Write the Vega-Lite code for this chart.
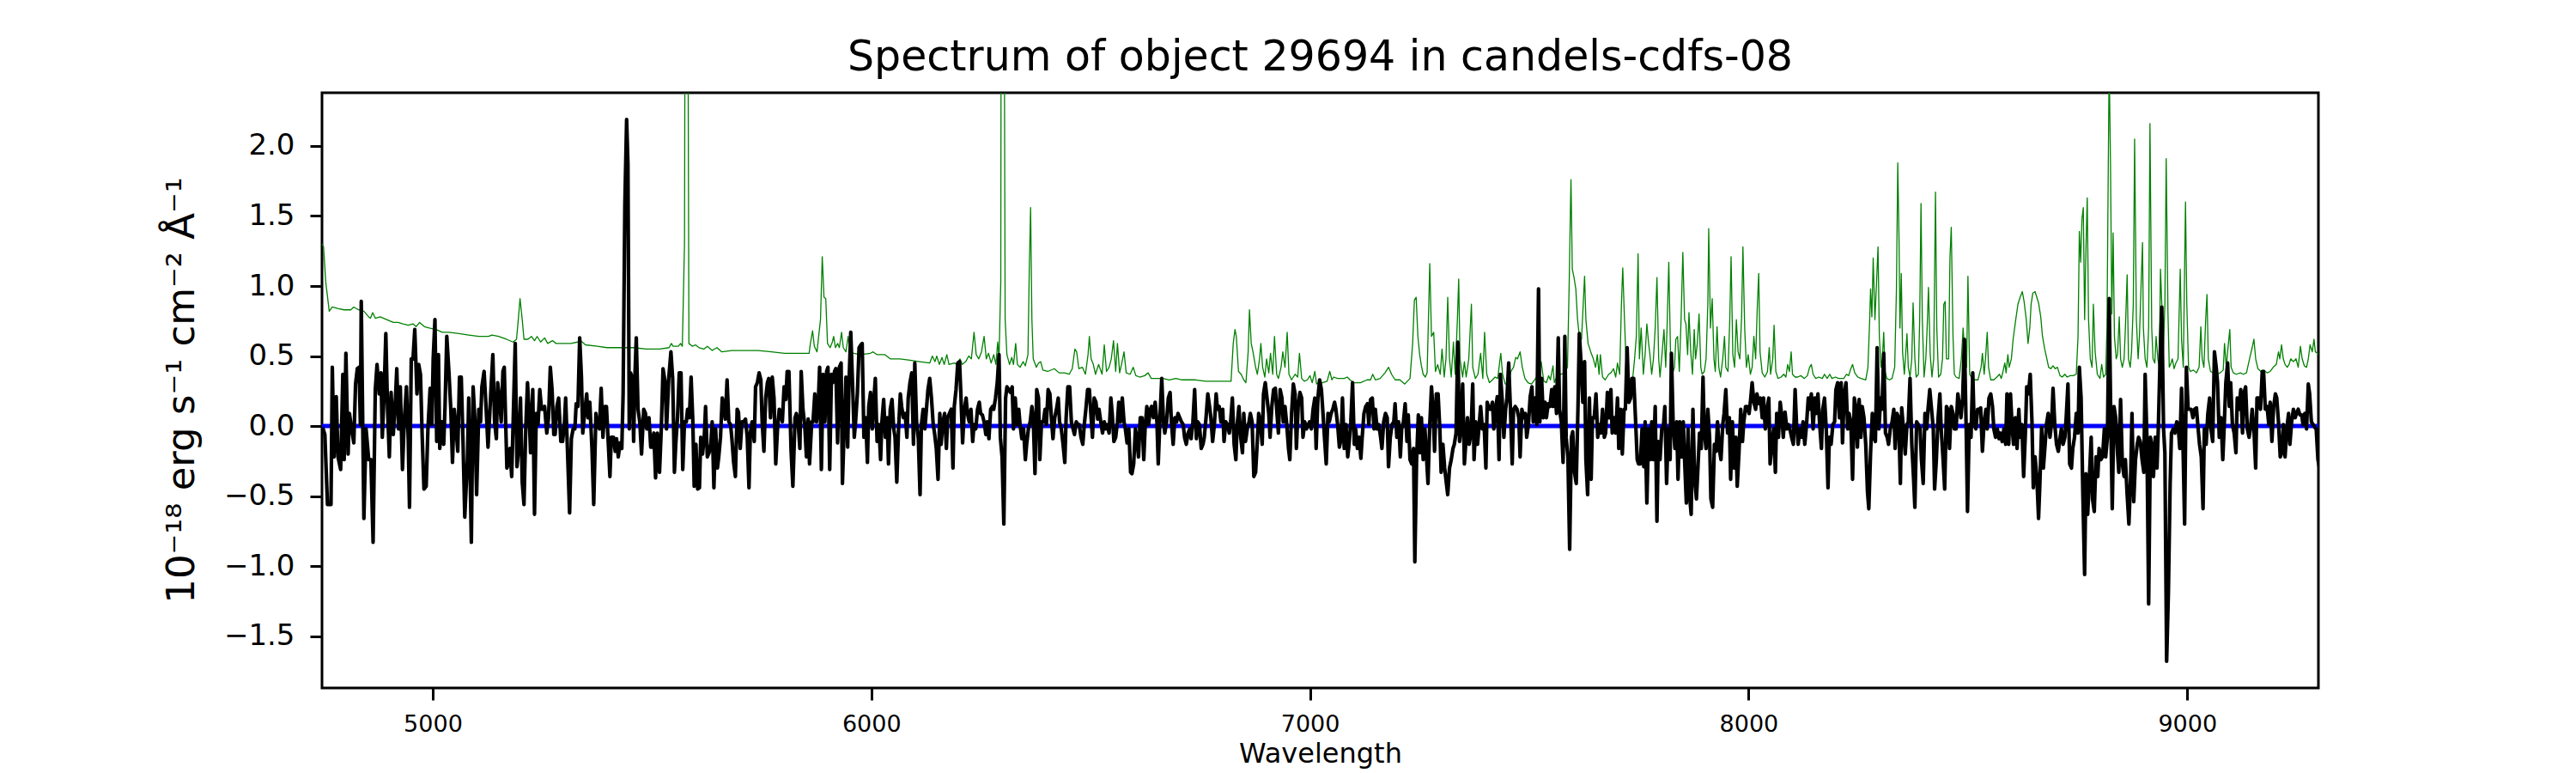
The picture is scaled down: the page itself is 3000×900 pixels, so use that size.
{
"$schema": "https://vega.github.io/schema/vega-lite/v6.json",
"width": 2325,
"height": 693,
"autosize": {"type": "none"},
"padding": {"left": 375, "top": 108, "right": 300, "bottom": 99},
"background": "white",
"config": {"view": {"stroke": "black", "strokeWidth": 3}, "font": "DejaVu Sans"},
"title": {"text": "Spectrum of object 29694 in candels-cdfs-08", "font": "DejaVu Sans", "fontSize": 49, "fontWeight": "normal", "color": "black", "anchor": "middle", "baseline": "alphabetic", "offset": 25, "dy": 48},
"datasets": {
"zero": [{"w": 4747.5, "f": 0}, {"w": 9299, "f": 0}],
"noise": [
{"w":4748,"f":1.3},{"w":4751,"f":1.28},{"w":4756,"f":1.03},{"w":4764,"f":0.82},{"w":4771,"f":0.85},{"w":4783,"f":0.84},{"w":4798,"f":0.83},{"w":4813,"f":0.83},{"w":4820,"f":0.85},{"w":4831,"f":0.83},{"w":4843,"f":0.82},{"w":4854,"f":0.78},{"w":4858,"f":0.77},{"w":4863,"f":0.81},{"w":4869,"f":0.77},{"w":4880,"f":0.78},{"w":4895,"f":0.76},{"w":4910,"f":0.74},{"w":4921,"f":0.74},{"w":4932,"f":0.73},{"w":4944,"f":0.72},{"w":4955,"f":0.73},{"w":4962,"f":0.71},{"w":4970,"f":0.74},{"w":4981,"f":0.71},{"w":4992,"f":0.70},{"w":5007,"f":0.69},{"w":5022,"f":0.67},{"w":5037,"f":0.67},{"w":5060,"f":0.66},{"w":5082,"f":0.65},{"w":5105,"f":0.64},{"w":5127,"f":0.64},{"w":5135,"f":0.65},{"w":5150,"f":0.64},{"w":5168,"f":0.62},{"w":5183,"f":0.60},{"w":5191,"f":0.62},{"w":5195,"f":0.76},{"w":5199,"f":0.91},{"w":5204,"f":0.76},{"w":5208,"f":0.62},{"w":5217,"f":0.62},{"w":5225,"f":0.64},{"w":5232,"f":0.61},{"w":5238,"f":0.64},{"w":5246,"f":0.60},{"w":5255,"f":0.63},{"w":5262,"f":0.59},{"w":5273,"f":0.61},{"w":5281,"f":0.59},{"w":5296,"f":0.59},{"w":5315,"f":0.59},{"w":5330,"f":0.60},{"w":5337,"f":0.61},{"w":5348,"f":0.58},{"w":5375,"f":0.57},{"w":5397,"f":0.56},{"w":5427,"f":0.56},{"w":5457,"f":0.56},{"w":5487,"f":0.55},{"w":5517,"f":0.55},{"w":5539,"f":0.56},{"w":5544,"f":0.59},{"w":5548,"f":0.57},{"w":5560,"f":0.57},{"w":5565,"f":0.59},{"w":5569,"f":0.57},{"w":5574,"f":1.31},{"w":5577,"f":6.0},{"w":5581,"f":4.0},{"w":5584,"f":0.59},{"w":5592,"f":0.57},{"w":5599,"f":0.58},{"w":5607,"f":0.56},{"w":5618,"f":0.55},{"w":5626,"f":0.57},{"w":5637,"f":0.54},{"w":5648,"f":0.56},{"w":5659,"f":0.53},{"w":5682,"f":0.54},{"w":5712,"f":0.54},{"w":5742,"f":0.54},{"w":5772,"f":0.53},{"w":5802,"f":0.52},{"w":5832,"f":0.52},{"w":5858,"f":0.52},{"w":5861,"f":0.59},{"w":5866,"f":0.68},{"w":5870,"f":0.57},{"w":5876,"f":0.53},{"w":5884,"f":0.76},{"w":5888,"f":1.21},{"w":5892,"f":0.92},{"w":5896,"f":0.91},{"w":5900,"f":0.59},{"w":5906,"f":0.56},{"w":5911,"f":0.60},
{"w":5914,"f":0.64},{"w":5918,"f":0.56},{"w":5923,"f":0.59},{"w":5927,"f":0.56},{"w":5932,"f":0.67},{"w":5936,"f":0.56},{"w":5942,"f":0.53},{"w":5947,"f":0.64},{"w":5951,"f":0.53},{"w":5960,"f":0.52},{"w":5975,"f":0.51},{"w":5998,"f":0.52},{"w":6004,"f":0.53},{"w":6013,"f":0.51},{"w":6031,"f":0.51},{"w":6043,"f":0.48},{"w":6065,"f":0.48},{"w":6088,"f":0.47},{"w":6110,"f":0.46},{"w":6133,"f":0.45},{"w":6139,"f":0.50},{"w":6145,"f":0.46},{"w":6149,"f":0.50},{"w":6155,"f":0.44},{"w":6161,"f":0.49},{"w":6166,"f":0.44},{"w":6172,"f":0.51},{"w":6177,"f":0.44},{"w":6189,"f":0.45},{"w":6196,"f":0.44},{"w":6202,"f":0.48},{"w":6207,"f":0.44},{"w":6215,"f":0.46},{"w":6222,"f":0.50},{"w":6228,"f":0.48},{"w":6234,"f":0.67},{"w":6239,"f":0.51},{"w":6245,"f":0.48},{"w":6251,"f":0.53},{"w":6257,"f":0.64},{"w":6262,"f":0.48},{"w":6267,"f":0.52},{"w":6273,"f":0.45},{"w":6279,"f":0.51},{"w":6284,"f":0.44},{"w":6288,"f":0.60},{"w":6291,"f":0.48},{"w":6295,"f":1.03},{"w":6297,"f":6.0},{"w":6302,"f":4.0},{"w":6305,"f":0.76},{"w":6309,"f":0.51},{"w":6315,"f":0.44},{"w":6320,"f":0.49},{"w":6324,"f":0.44},{"w":6329,"f":0.59},{"w":6333,"f":0.44},{"w":6339,"f":0.42},{"w":6346,"f":0.46},{"w":6351,"f":0.43},{"w":6357,"f":0.51},{"w":6360,"f":1.12},{"w":6363,"f":1.56},{"w":6366,"f":0.76},{"w":6369,"f":0.48},{"w":6376,"f":0.42},{"w":6381,"f":0.45},{"w":6386,"f":0.46},{"w":6391,"f":0.40},{"w":6402,"f":0.39},{"w":6417,"f":0.41},{"w":6428,"f":0.38},{"w":6440,"f":0.38},{"w":6451,"f":0.37},{"w":6458,"f":0.41},{"w":6464,"f":0.55},{"w":6468,"f":0.53},{"w":6473,"f":0.41},{"w":6481,"f":0.42},{"w":6488,"f":0.37},{"w":6494,"f":0.51},{"w":6497,"f":0.64},{"w":6501,"f":0.48},{"w":6506,"f":0.44},{"w":6511,"f":0.37},{"w":6518,"f":0.44},{"w":6526,"f":0.37},{"w":6531,"f":0.58},{"w":6536,"f":0.39},{"w":6542,"f":0.42},{"w":6547,"f":0.48},{"w":6552,"f":0.61},{"w":6557,"f":0.39},{"w":6561,"f":0.59},{"w":6566,"f":0.38},{"w":6571,"f":0.45},{"w":6576,"f":0.53},{"w":6581,"f":0.38},{"w":6590,"f":0.37},{"w":6597,"f":0.42},{"w":6603,"f":0.36},{"w":6612,"f":0.35},{"w":6623,"f":0.36},{"w":6631,"f":0.38},{"w":6638,"f":0.34},{"w":6650,"f":0.34},{"w":6665,"f":0.34},{"w":6679,"f":0.33},{"w":6694,"f":0.34},{"w":6709,"f":0.33},{"w":6724,"f":0.33},{"w":6739,"f":0.33},{"w":6762,"f":0.32},{"w":6784,"f":0.32},{"w":6807,"f":0.32},{"w":6820,"f":0.32},{"w":6825,"f":0.59},{"w":6829,"f":0.69},{"w":6832,"f":0.64},{"w":6837,"f":0.39},{"w":6843,"f":0.37},{"w":6849,"f":0.33},{"w":6854,"f":0.31},{"w":6859,"f":0.53},{"w":6862,"f":0.83},{"w":6866,"f":0.59},{"w":6870,"f":0.53},{"w":6876,"f":0.42},{"w":6880,"f":0.37},{"w":6885,"f":0.48},{"w":6888,"f":0.59},{"w":6892,"f":0.42},{"w":6897,"f":0.35},{"w":6901,"f":0.48},{"w":6906,"f":0.38},{"w":6910,"f":0.52},{"w":6915,"f":0.37},{"w":6919,"f":0.64},{"w":6924,"f":0.37},{"w":6928,"f":0.34},{"w":6934,"f":0.42},{"w":6938,"f":0.53},{"w":6943,"f":0.42},{"w":6948,"f":0.67},{"w":6952,"f":0.37},{"w":6958,"f":0.33},{"w":6966,"f":0.37},{"w":6972,"f":0.35},{"w":6976,"f":0.52},{"w":6981,"f":0.34},{"w":6987,"f":0.32},{"w":6994,"f":0.33},{"w":7000,"f":0.36},{"w":7005,"f":0.31},{"w":7011,"f":0.39},{"w":7015,"f":0.30},{"w":7020,"f":0.31},{"w":7028,"f":0.31},{"w":7039,"f":0.32},{"w":7045,"f":0.39},{"w":7050,"f":0.33},
{"w":7054,"f":0.35},{"w":7063,"f":0.34},{"w":7078,"f":0.34},{"w":7085,"f":0.35},{"w":7091,"f":0.33},{"w":7100,"f":0.31},{"w":7115,"f":0.31},{"w":7130,"f":0.33},{"w":7138,"f":0.33},{"w":7143,"f":0.37},{"w":7149,"f":0.33},{"w":7160,"f":0.34},{"w":7171,"f":0.38},{"w":7179,"f":0.42},{"w":7186,"f":0.37},{"w":7194,"f":0.33},{"w":7205,"f":0.33},{"w":7216,"f":0.30},{"w":7228,"f":0.34},{"w":7234,"f":0.59},{"w":7238,"f":0.90},{"w":7242,"f":0.92},{"w":7246,"f":0.64},{"w":7250,"f":0.51},{"w":7254,"f":0.43},{"w":7258,"f":0.37},{"w":7263,"f":0.35},{"w":7267,"f":0.38},{"w":7270,"f":0.76},{"w":7273,"f":1.16},{"w":7277,"f":0.64},{"w":7282,"f":0.67},{"w":7286,"f":0.39},{"w":7291,"f":0.44},{"w":7297,"f":0.37},{"w":7301,"f":0.55},{"w":7306,"f":0.35},{"w":7310,"f":0.48},{"w":7314,"f":0.92},{"w":7318,"f":0.48},{"w":7322,"f":0.35},{"w":7327,"f":0.60},{"w":7331,"f":0.37},{"w":7336,"f":0.76},{"w":7339,"f":1.05},{"w":7342,"f":0.48},{"w":7348,"f":0.35},{"w":7352,"f":0.46},{"w":7356,"f":0.35},{"w":7362,"f":0.48},{"w":7368,"f":0.87},{"w":7371,"f":0.42},{"w":7377,"f":0.34},{"w":7383,"f":0.37},{"w":7389,"f":0.52},{"w":7394,"f":0.34},{"w":7398,"f":0.67},{"w":7403,"f":0.37},{"w":7409,"f":0.31},{"w":7416,"f":0.33},{"w":7422,"f":0.35},{"w":7428,"f":0.34},{"w":7431,"f":0.42},{"w":7435,"f":0.52},{"w":7439,"f":0.37},{"w":7445,"f":0.30},{"w":7452,"f":0.30},{"w":7458,"f":0.39},{"w":7464,"f":0.42},{"w":7469,"f":0.49},{"w":7473,"f":0.48},{"w":7479,"f":0.53},{"w":7484,"f":0.42},{"w":7490,"f":0.34},{"w":7497,"f":0.31},{"w":7505,"f":0.30},{"w":7512,"f":0.33},{"w":7521,"f":0.37},{"w":7527,"f":0.46},{"w":7533,"f":0.32},{"w":7539,"f":0.31},{"w":7544,"f":0.36},{"w":7548,"f":0.33},{"w":7554,"f":0.43},{"w":7557,"f":0.31},{"w":7565,"f":0.37},{"w":7572,"f":0.37},{"w":7581,"f":0.38},{"w":7587,"f":0.42},{"w":7591,"f":1.03},{"w":7593,"f":1.42},{"w":7595,"f":1.76},{"w":7598,"f":1.12},{"w":7602,"f":1.06},{"w":7606,"f":0.98},{"w":7610,"f":0.76},{"w":7614,"f":0.64},{"w":7619,"f":0.62},{"w":7622,"f":0.81},{"w":7626,"f":1.07},{"w":7629,"f":0.76},{"w":7634,"f":0.59},{"w":7640,"f":0.53},{"w":7646,"f":0.48},{"w":7651,"f":0.42},{"w":7655,"f":0.51},{"w":7659,"f":0.37},{"w":7662,"f":0.51},{"w":7667,"f":0.35},{"w":7673,"f":0.33},{"w":7681,"f":0.37},{"w":7686,"f":0.38},{"w":7692,"f":0.41},{"w":7697,"f":0.35},{"w":7701,"f":0.45},{"w":7706,"f":0.37},{"w":7710,"f":0.87},{"w":7713,"f":1.13},{"w":7717,"f":0.76},{"w":7721,"f":0.42},{"w":7726,"f":0.37},{"w":7731,"f":0.31},{"w":7736,"f":0.35},{"w":7740,"f":0.48},{"w":7744,"f":0.64},{"w":7748,"f":1.23},{"w":7751,"f":0.48},{"w":7755,"f":0.70},{"w":7760,"f":0.37},{"w":7764,"f":0.51},{"w":7768,"f":0.73},{"w":7772,"f":0.59},{"w":7775,"f":0.51},{"w":7779,"f":0.37},{"w":7783,"f":0.48},{"w":7787,"f":0.70},{"w":7791,"f":1.06},{"w":7795,"f":0.48},{"w":7798,"f":0.35},{"w":7803,"f":0.53},{"w":7807,"f":0.69},{"w":7811,"f":0.42},{"w":7814,"f":0.70},{"w":7818,"f":1.17},{"w":7822,"f":0.51},{"w":7826,"f":0.37},{"w":7831,"f":0.42},{"w":7834,"f":0.62},{"w":7838,"f":0.64},{"w":7842,"f":0.39},{"w":7846,"f":0.76},{"w":7850,"f":1.24},{"w":7854,"f":0.76},{"w":7857,"f":0.73},{"w":7861,"f":0.51},{"w":7864,"f":0.81},{"w":7868,"f":0.53},{"w":7872,"f":0.37},{"w":7876,"f":0.69},{"w":7879,"f":0.48},{"w":7883,"f":0.59},{"w":7887,"f":0.80},{"w":7891,"f":0.42},{"w":7894,"f":0.37},{"w":7899,"f":0.39},{"w":7903,"f":0.48},{"w":7907,"f":0.87},{"w":7909,"f":1.41},{"w":7913,"f":0.70},{"w":7917,"f":0.91},{"w":7921,"f":0.48},{"w":7924,"f":0.39},{"w":7928,"f":0.71},{"w":7932,"f":0.42},{"w":7936,"f":0.35},{"w":7941,"f":0.48},{"w":7945,"f":0.64},{"w":7948,"f":0.42},{"w":7953,"f":0.39},{"w":7957,"f":0.76},{"w":7960,"f":1.21},{"w":7964,"f":0.51},{"w":7968,"f":0.42},{"w":7972,"f":0.76},{"w":7976,"f":0.53},{"w":7980,"f":0.48},{"w":7984,"f":0.78},{"w":7987,"f":1.28},{"w":7991,"f":0.70},{"w":7995,"f":0.42},{"w":7999,"f":0.51},{"w":8004,"f":0.37},{"w":8008,"f":0.42},{"w":8012,"f":0.64},{"w":8016,"f":0.48},{"w":8020,"f":0.87},{"w":8023,"f":1.09},{"w":8026,"f":0.53},{"w":8031,"f":0.38},{"w":8037,"f":0.35},{"w":8043,"f":0.39},{"w":8047,"f":0.56},{"w":8050,"f":0.37},{"w":8055,"f":0.48},{"w":8058,"f":0.72},{"w":8062,"f":0.39},{"w":8067,"f":0.34},{"w":8074,"f":0.35},{"w":8080,"f":0.37},{"w":8085,"f":0.35},{"w":8089,"f":0.44},{"w":8093,"f":0.39},{"w":8097,"f":0.53},{"w":8100,"f":0.37},{"w":8106,"f":0.35},{"w":8112,"f":0.35},{"w":8119,"f":0.36},{"w":8127,"f":0.34},{"w":8134,"f":0.36},{"w":8139,"f":0.42},{"w":8143,"f":0.44},{"w":8147,"f":0.37},{"w":8153,"f":0.34},{"w":8160,"f":0.35},{"w":8168,"f":0.34},{"w":8173,"f":0.37},{"w":8179,"f":0.34},{"w":8185,"f":0.37},{"w":8190,"f":0.34},{"w":8198,"f":0.35},{"w":8205,"f":0.34},
{"w":8210,"f":0.34},{"w":8217,"f":0.34},{"w":8223,"f":0.37},{"w":8228,"f":0.36},{"w":8233,"f":0.41},{"w":8237,"f":0.44},{"w":8242,"f":0.38},{"w":8249,"f":0.35},{"w":8256,"f":0.34},{"w":8267,"f":0.33},{"w":8272,"f":0.42},{"w":8276,"f":0.76},{"w":8278,"f":0.98},{"w":8281,"f":0.78},{"w":8284,"f":1.20},{"w":8288,"f":0.76},{"w":8291,"f":0.98},{"w":8295,"f":1.28},{"w":8298,"f":0.64},{"w":8302,"f":0.42},{"w":8305,"f":0.48},{"w":8308,"f":0.67},{"w":8311,"f":0.39},{"w":8315,"f":0.34},{"w":8321,"f":0.33},{"w":8327,"f":0.34},{"w":8333,"f":0.42},{"w":8337,"f":0.98},{"w":8340,"f":1.88},{"w":8343,"f":1.31},{"w":8345,"f":0.70},{"w":8348,"f":1.09},{"w":8351,"f":0.53},{"w":8355,"f":0.37},{"w":8358,"f":0.51},{"w":8361,"f":0.66},{"w":8364,"f":0.42},{"w":8368,"f":0.35},{"w":8372,"f":0.48},{"w":8375,"f":0.88},{"w":8379,"f":0.48},{"w":8382,"f":0.35},{"w":8387,"f":0.37},{"w":8390,"f":0.76},{"w":8393,"f":1.59},{"w":8396,"f":0.76},{"w":8400,"f":0.35},{"w":8404,"f":0.48},{"w":8407,"f":0.70},{"w":8410,"f":0.99},{"w":8414,"f":0.51},{"w":8418,"f":0.35},{"w":8422,"f":0.48},{"w":8426,"f":1.67},{"w":8429,"f":0.70},{"w":8433,"f":0.35},{"w":8438,"f":0.37},{"w":8442,"f":0.48},{"w":8445,"f":0.87},{"w":8448,"f":0.89},{"w":8451,"f":0.48},{"w":8456,"f":0.48},{"w":8459,"f":1.20},{"w":8462,"f":1.42},{"w":8466,"f":0.64},{"w":8469,"f":0.37},{"w":8473,"f":0.35},{"w":8480,"f":0.34},{"w":8485,"f":0.48},{"w":8489,"f":0.70},{"w":8493,"f":0.51},{"w":8497,"f":0.42},{"w":8500,"f":1.07},{"w":8504,"f":0.37},{"w":8509,"f":0.34},{"w":8516,"f":0.33},{"w":8523,"f":0.33},{"w":8530,"f":0.42},{"w":8533,"f":0.52},{"w":8537,"f":0.37},{"w":8540,"f":0.48},{"w":8544,"f":0.67},{"w":8547,"f":0.42},{"w":8552,"f":0.33},{"w":8559,"f":0.33},{"w":8566,"f":0.35},{"w":8572,"f":0.37},{"w":8576,"f":0.34},{"w":8580,"f":0.39},{"w":8584,"f":0.45},{"w":8587,"f":0.38},{"w":8591,"f":0.51},{"w":8594,"f":0.42},{"w":8599,"f":0.48},{"w":8603,"f":0.62},{"w":8609,"f":0.76},{"w":8614,"f":0.87},{"w":8619,"f":0.92},{"w":8624,"f":0.96},{"w":8628,"f":0.89},{"w":8633,"f":0.76},{"w":8637,"f":0.59},{"w":8641,"f":0.70},{"w":8644,"f":0.87},{"w":8648,"f":0.95},{"w":8653,"f":0.96},{"w":8657,"f":0.92},{"w":8661,"f":0.88},{"w":8666,"f":0.78},{"w":8670,"f":0.64},{"w":8675,"f":0.55},{"w":8680,"f":0.48},{"w":8684,"f":0.42},{"w":8689,"f":0.41},{"w":8694,"f":0.43},{"w":8699,"f":0.41},{"w":8704,"f":0.42},{"w":8710,"f":0.36},{"w":8715,"f":0.35},{"w":8721,"f":0.37},{"w":8726,"f":0.35},{"w":8733,"f":0.36},{"w":8740,"f":0.36},{"w":8747,"f":0.37},{"w":8751,"f":0.64},{"w":8754,"f":1.39},{"w":8757,"f":1.17},{"w":8760,"f":1.48},{"w":8763,"f":1.56},{"w":8766,"f":0.76},{"w":8769,"f":1.26},{"w":8772,"f":1.63},{"w":8775,"f":0.76},{"w":8779,"f":0.48},{"w":8783,"f":0.42},{"w":8786,"f":0.87},{"w":8790,"f":0.53},{"w":8795,"f":0.37},{"w":8801,"f":0.34},{"w":8805,"f":0.44},{"w":8809,"f":0.35},{"w":8814,"f":0.37},{"w":8817,"f":0.70},{"w":8820,"f":1.87},{"w":8822,"f":2.6},{"w":8825,"f":1.87},{"w":8828,"f":0.80},{"w":8831,"f":1.38},{"w":8834,"f":0.64},{"w":8838,"f":0.48},{"w":8841,"f":0.51},{"w":8845,"f":0.78},{"w":8848,"f":0.48},{"w":8852,"f":0.42},{"w":8856,"f":0.48},{"w":8859,"f":0.70},{"w":8863,"f":1.08},{"w":8866,"f":0.48},{"w":8870,"f":0.42},{"w":8873,"f":0.53},{"w":8877,"f":0.87},{"w":8880,"f":2.05},{"w":8884,"f":0.76},{"w":8888,"f":0.48},{"w":8891,"f":0.64},{"w":8895,"f":1.03},{"w":8898,"f":1.31},{"w":8900,"f":0.70},{"w":8904,"f":0.48},{"w":8908,"f":0.42},{"w":8912,"f":0.70},{"w":8915,"f":2.16},{"w":8919,"f":0.70},{"w":8922,"f":0.48},{"w":8926,"f":0.45},{"w":8929,"f":0.64},{"w":8933,"f":0.48},{"w":8936,"f":0.42},{"w":8939,"f":1.12},{"w":8942,"f":0.87},{"w":8945,"f":0.48},{"w":8949,"f":0.87},{"w":8952,"f":1.91},{"w":8956,"f":0.81},{"w":8959,"f":0.42},{"w":8963,"f":0.45},{"w":8966,"f":0.48},{"w":8970,"f":0.41},{"w":8974,"f":0.45},{"w":8979,"f":0.48},{"w":8984,"f":1.12},{"w":8987,"f":0.62},{"w":8991,"f":0.42},{"w":8996,"f":1.60},{"w":8999,"f":0.87},{"w":9003,"f":0.42},{"w":9007,"f":0.39},{"w":9014,"f":0.40},{"w":9021,"f":0.38},{"w":9027,"f":0.42},{"w":9031,"f":0.71},{"w":9034,"f":0.48},{"w":9038,"f":0.42},{"w":9042,"f":0.76},{"w":9045,"f":0.94},{"w":9048,"f":0.48},{"w":9053,"f":0.39},{"w":9060,"f":0.38},{"w":9068,"f":0.37},{"w":9075,"f":0.38},{"w":9082,"f":0.40},{"w":9085,"f":0.59},{"w":9089,"f":0.42},{"w":9092,"f":0.53},{"w":9097,"f":0.69},{"w":9100,"f":0.42},{"w":9105,"f":0.38},{"w":9112,"f":0.37},{"w":9121,"f":0.38},{"w":9128,"f":0.37},{"w":9135,"f":0.38},{"w":9142,"f":0.48},{"w":9148,"f":0.56},{"w":9152,"f":0.62},{"w":9156,"f":0.48},{"w":9161,"f":0.41},{"w":9168,"f":0.39},{"w":9175,"f":0.40},{"w":9182,"f":0.38},{"w":9189,"f":0.39},{"w":9196,"f":0.42},{"w":9203,"f":0.44},{"w":9208,"f":0.53},{"w":9211,"f":0.48},{"w":9215,"f":0.58},{"w":9219,"f":0.48},{"w":9223,"f":0.44},{"w":9228,"f":0.42},{"w":9232,"f":0.44},{"w":9236,"f":0.48},{"w":9242,"f":0.46},{"w":9248,"f":0.48},{"w":9253,"f":0.42},{"w":9258,"f":0.57},{"w":9262,"f":0.48},{"w":9267,"f":0.43},{"w":9272,"f":0.42},{"w":9276,"f":0.48},{"w":9280,"f":0.58},{"w":9285,"f":0.53},{"w":9289,"f":0.62},{"w":9292,"f":0.53},{"w":9297,"f":0.52},{"w":9299,"f":0.51}
],
"flux": [
{"w":4749,"f":-0.01},{"w":4754,"f":-0.06},{"w":4760,"f":-0.56},{"w":4768,"f":-0.56},{"w":4771,"f":0.42},{"w":4775,"f":-0.22},{"w":4780,"f":0.21},{"w":4784,"f":-0.22},{"w":4790,"f":-0.31},{"w":4795,"f":0.37},{"w":4798,"f":-0.24},{"w":4802,"f":0.52},{"w":4807,"f":-0.2},{"w":4810,"f":0.09},{"w":4815,"f":-0.02},{"w":4820,"f":-0.12},{"w":4824,"f":0.3},{"w":4828,"f":0.41},{"w":4832,"f":0.42},{"w":4835,"f":0.01},{"w":4837,"f":0.89},{"w":4843,"f":-0.66},{"w":4848,"f":-0.02},{"w":4854,"f":-0.24},{"w":4859,"f":-0.24},{"w":4864,"f":-0.83},{"w":4869,"f":0.26},{"w":4873,"f":0.44},{"w":4878,"f":0.23},{"w":4882,"f":0.38},{"w":4885,"f":-0.08},{"w":4889,"f":0.23},{"w":4893,"f":0.66},{"w":4897,"f":0.12},{"w":4901,"f":-0.22},{"w":4905,"f":0.24},{"w":4910,"f":-0.06},{"w":4915,"f":0.2},{"w":4918,"f":0.41},{"w":4922,"f":-0.02},{"w":4926,"f":0.28},{"w":4931,"f":-0.31},{"w":4935,"f":0.03},{"w":4940,"f":0.28},{"w":4944,"f":-0.08},{"w":4947,"f":-0.58},{"w":4951,"f":0.48},{"w":4955,"f":0.48},{"w":4959,"f":0.69},{"w":4964,"f":0.23},{"w":4968,"f":0.44},{"w":4972,"f":0.37},{"w":4976,"f":-0.08},{"w":4980,"f":-0.45},{"w":4985,"f":-0.43},{"w":4989,"f":-0.02},{"w":4994,"f":0.27},{"w":4998,"f":0.01},{"w":5001,"f":0.48},{"w":5005,"f":0.76},{"w":5009,"f":-0.11},{"w":5013,"f":0.51},{"w":5016,"f":-0.16},{"w":5021,"f":0.03},{"w":5025,"f":-0.13},{"w":5028,"f":0.14},{"w":5032,"f":0.64},{"w":5037,"f":0.38},{"w":5041,"f":0.13},{"w":5045,"f":-0.26},{"w":5049,"f":0.12},{"w":5052,"f":0.03},{"w":5057,"f":-0.18},{"w":5061,"f":0.35},{"w":5065,"f":0.35},{"w":5069,"f":-0.11},{"w":5073,"f":-0.65},{"w":5079,"f":-0.24},{"w":5082,"f":0.2},{"w":5088,"f":-0.83},{"w":5092,"f":0.28},{"w":5096,"f":0.05},{"w":5100,"f":-0.49},{"w":5105,"f":0.12},{"w":5109,"f":0.03},{"w":5112,"f":0.28},{"w":5117,"f":0.39},{"w":5121,"f":0.17},{"w":5126,"f":-0.15},{"w":5130,"f":0.09},{"w":5133,"f":0.28},{"w":5137,"f":0.51},{"w":5141,"f":0.03},{"w":5145,"f":-0.09},{"w":5148,"f":0.31},{"w":5152,"f":0.2},{"w":5156,"f":0.03},{"w":5160,"f":0.39},{"w":5163,"f":0.42},{"w":5169,"f":-0.3},{"w":5172,"f":-0.27},{"w":5176,"f":-0.16},{"w":5180,"f":-0.36},{"w":5184,"f":0.12},{"w":5188,"f":0.59},{"w":5192,"f":-0.29},{"w":5195,"f":-0.19},{"w":5200,"f":0.2},{"w":5204,"f":-0.4},{"w":5208,"f":-0.56},{"w":5212,"f":-0.02},{"w":5216,"f":0.31},{"w":5219,"f":0.14},{"w":5223,"f":-0.19},{"w":5228,"f":0.26},{"w":5232,"f":-0.63},{"w":5236,"f":0.09},{"w":5240,"f":0.01},{"w":5244,"f":0.26},{"w":5248,"f":0.12},{"w":5252,"f":0.12},{"w":5255,"f":0.14},{"w":5260,"f":-0.05},{"w":5264,"f":0.06},{"w":5268,"f":0.42},{"w":5272,"f":0.26},{"w":5276,"f":-0.06},{"w":5279,"f":-0.06},{"w":5283,"f":0.14},{"w":5287,"f":0.2},{"w":5292,"f":-0.11},{"w":5296,"f":-0.11},{"w":5300,"f":0.01},{"w":5303,"f":0.2},{"w":5307,"f":-0.16},{"w":5312,"f":-0.62},{"w":5316,"f":-0.09},{"w":5320,"f":-0.02},{"w":5324,"f":-0.02},{"w":5327,"f":0.16},{"w":5331,"f":0.14},{"w":5335,"f":0.63},{"w":5339,"f":0.35},{"w":5342,"f":-0.05},{"w":5346,"f":0.09},{"w":5351,"f":0.23},{"w":5354,"f":0.06},{"w":5358,"f":0.17},{"w":5363,"f":-0.16},{"w":5367,"f":-0.56},{"w":5372,"f":0.09},{"w":5375,"f":0.01},{"w":5380,"f":-0.02},{"w":5384,"f":0.27},{"w":5388,"f":-0.08},{"w":5392,"f":0.14},{"w":5396,"f":0.14},{"w":5400,"f":-0.11},{"w":5404,"f":-0.36},{"w":5407,"f":-0.08},{"w":5412,"f":-0.08},{"w":5416,"f":-0.18},{"w":5419,"f":-0.09},{"w":5423,"f":-0.22},{"w":5427,"f":-0.12},{"w":5431,"f":-0.16},{"w":5434,"f":0.23},{"w":5438,"f":1.59},{"w":5442,"f":2.19},{"w":5445,"f":1.87},{"w":5448,"f":-0.02},{"w":5451,"f":0.38},{"w":5455,"f":0.34},{"w":5458,"f":-0.11},{"w":5461,"f":0.37},{"w":5464,"f":0.63},{"w":5468,"f":0.12},{"w":5472,"f":0.03},{"w":5476,"f":-0.2},{"w":5481,"f":0.12},{"w":5485,"f":0.09},{"w":5488,"f":-0.02},{"w":5493,"f":0.06},{"w":5497,"f":-0.15},{"w":5500,"f":-0.15},{"w":5504,"f":-0.05},{"w":5508,"f":-0.37},{"w":5512,"f":-0.05},{"w":5517,"f":-0.33},{"w":5521,"f":-0.02},{"w":5525,"f":0.41},{"w":5530,"f":0.31},{"w":5533,"f":-0.02},{"w":5538,"f":0.34},{"w":5543,"f":0.53},{"w":5547,"f":0.34},{"w":5551,"f":-0.33},{"w":5554,"f":-0.13},{"w":5558,"f":0.06},{"w":5562,"f":0.38},{"w":5566,"f":0.38},{"w":5570,"f":-0.31},{"w":5574,"f":0.03},{"w":5578,"f":0.03},{"w":5581,"f":0.12},{"w":5585,"f":0.06},{"w":5589,"f":0.35},{"w":5593,"f":0.03},{"w":5596,"f":-0.43},{"w":5600,"f":-0.13},{"w":5604,"f":-0.45},{"w":5608,"f":-0.44},{"w":5611,"f":-0.08},{"w":5615,"f":-0.2},{"w":5619,"f":-0.08},{"w":5622,"f":0.14},{"w":5626,"f":-0.22},{"w":5630,"f":-0.19},{"w":5634,"f":-0.13},{"w":5637,"f":0.03},{"w":5641,"f":-0.44},{"w":5645,"f":-0.02},{"w":5649,"f":-0.3},{"w":5652,"f":-0.22},{"w":5656,"f":-0.08},{"w":5660,"f":0.2},{"w":5664,"f":0.14},{"w":5667,"f":0.05},{"w":5671,"f":0.33},{"w":5675,"f":0.03},{"w":5679,"f":0.01},{"w":5682,"f":-0.09},{"w":5686,"f":-0.26},{"w":5690,"f":-0.36},{"w":5694,"f":0.12},{"w":5697,"f":0.1},{"w":5701,"f":-0.16},{"w":5705,"f":0.03},{"w":5709,"f":0.03},{"w":5713,"f":0.05},{"w":5717,"f":-0.08},{"w":5721,"f":-0.44},{"w":5724,"f":-0.05},{"w":5728,"f":0.03},{"w":5733,"f":-0.11},{"w":5736,"f":0.28},{"w":5740,"f":0.31},{"w":5744,"f":0.38},{"w":5748,"f":0.33},{"w":5751,"f":0.03},{"w":5755,"f":-0.18},{"w":5759,"f":0.2},{"w":5763,"f":0.31},{"w":5766,"f":0.34},{"w":5770,"f":0.06},{"w":5774,"f":0.35},{"w":5778,"f":0.2},{"w":5782,"f":-0.27},{"w":5786,"f":-0.02},{"w":5790,"f":0.12},{"w":5793,"f":0.1},{"w":5797,"f":0.03},{"w":5801,"f":0.28},{"w":5805,"f":0.19},{"w":5808,"f":0.39},{"w":5812,"f":0.39},{"w":5817,"f":-0.18},{"w":5821,"f":-0.43},{"w":5826,"f":0.06},{"w":5829,"f":0.09},{"w":5833,"f":0.03},{"w":5837,"f":-0.16},{"w":5840,"f":0.39},{"w":5844,"f":0.12},{"w":5848,"f":0.01},{"w":5852,"f":-0.22},{"w":5856,"f":0.05},{"w":5859,"f":-0.27},{"w":5864,"f":0.03},{"w":5867,"f":0.03},{"w":5871,"f":0.23},{"w":5875,"f":0.03},{"w":5879,"f":0.17},{"w":5882,"f":0.42},{"w":5886,"f":-0.31},{"w":5890,"f":0.37},{"w":5894,"f":0.03},{"w":5898,"f":0.39},{"w":5901,"f":0.42},{"w":5905,"f":-0.31},{"w":5909,"f":0.37},
{"w":5912,"f":0.31},{"w":5916,"f":0.39},{"w":5919,"f":0.41},{"w":5923,"f":-0.12},{"w":5927,"f":0.42},{"w":5931,"f":0.45},{"w":5934,"f":-0.41},{"w":5938,"f":-0.02},{"w":5942,"f":0.35},{"w":5946,"f":-0.15},{"w":5949,"f":0.31},{"w":5953,"f":0.67},{"w":5957,"f":0.31},{"w":5961,"f":-0.08},{"w":5964,"f":0.03},{"w":5968,"f":0.23},{"w":5972,"f":0.56},{"w":5976,"f":0.58},{"w":5979,"f":0.59},{"w":5983,"f":-0.08},{"w":5987,"f":0.06},{"w":5991,"f":-0.26},{"w":5994,"f":0.14},{"w":5998,"f":0.24},{"w":6002,"f":-0.02},{"w":6006,"f":0.2},{"w":6009,"f":0.34},{"w":6013,"f":-0.11},{"w":6017,"f":0.01},{"w":6021,"f":-0.24},{"w":6024,"f":0.03},{"w":6028,"f":0.19},{"w":6032,"f":-0.08},{"w":6036,"f":0.06},{"w":6039,"f":-0.27},{"w":6043,"f":0.12},{"w":6047,"f":0.19},{"w":6051,"f":-0.02},{"w":6054,"f":-0.08},{"w":6058,"f":-0.4},{"w":6062,"f":-0.02},{"w":6066,"f":0.23},{"w":6069,"f":0.14},{"w":6073,"f":0.06},{"w":6077,"f":0.09},{"w":6081,"f":-0.08},{"w":6084,"f":0.2},{"w":6088,"f":0.31},{"w":6092,"f":0.38},{"w":6096,"f":-0.13},{"w":6099,"f":0.45},{"w":6103,"f":0.03},{"w":6107,"f":-0.09},{"w":6111,"f":-0.49},{"w":6114,"f":0.01},{"w":6118,"f":0.12},{"w":6122,"f":-0.02},{"w":6126,"f":0.14},{"w":6129,"f":0.26},{"w":6133,"f":0.34},{"w":6137,"f":0.2},{"w":6141,"f":0.01},{"w":6144,"f":-0.05},{"w":6148,"f":-0.16},{"w":6152,"f":-0.38},{"w":6156,"f":0.09},{"w":6159,"f":-0.13},{"w":6163,"f":0.03},{"w":6167,"f":0.09},{"w":6171,"f":-0.16},{"w":6174,"f":0.06},{"w":6178,"f":0.09},{"w":6182,"f":0.12},{"w":6186,"f":-0.3},{"w":6189,"f":0.14},{"w":6193,"f":0.26},{"w":6197,"f":0.45},{"w":6201,"f":0.46},{"w":6204,"f":0.23},{"w":6208,"f":-0.12},{"w":6212,"f":0.12},{"w":6216,"f":0.2},{"w":6219,"f":0.09},{"w":6223,"f":0.03},{"w":6227,"f":0.12},{"w":6231,"f":-0.11},{"w":6234,"f":0.01},{"w":6238,"f":-0.02},{"w":6242,"f":0.12},{"w":6246,"f":0.17},{"w":6249,"f":0.09},{"w":6253,"f":0.08},{"w":6257,"f":0.03},{"w":6261,"f":-0.06},{"w":6264,"f":0.03},{"w":6268,"f":-0.09},{"w":6272,"f":0.12},{"w":6276,"f":0.14},{"w":6279,"f":0.12},{"w":6283,"f":0.2},{"w":6287,"f":0.31},{"w":6291,"f":0.51},{"w":6294,"f":-0.08},{"w":6298,"f":-0.22},{"w":6302,"f":-0.7},{"w":6306,"f":0.2},{"w":6309,"f":0.28},{"w":6313,"f":0.26},{"w":6317,"f":0.24},{"w":6321,"f":0.28},{"w":6324,"f":-0.02},{"w":6328,"f":0.2},{"w":6332,"f":0.01},{"w":6336,"f":0.12},{"w":6339,"f":0.01},{"w":6343,"f":-0.09},{"w":6347,"f":-0.02},{"w":6351,"f":-0.24},{"w":6354,"f":-0.13},{"w":6358,"f":-0.02},{"w":6362,"f":0.03},{"w":6366,"f":0.14},{"w":6369,"f":0.06},{"w":6373,"f":-0.34},{"w":6377,"f":0.26},{"w":6381,"f":0.2},{"w":6384,"f":-0.24},{"w":6388,"f":0.03},{"w":6392,"f":0.03},{"w":6396,"f":0.12},{"w":6399,"f":0.01},{"w":6403,"f":0.26},{"w":6407,"f":0.23},{"w":6411,"f":0.03},{"w":6414,"f":-0.09},{"w":6418,"f":0.06},{"w":6422,"f":0.12},{"w":6426,"f":0.2},{"w":6429,"f":0.03},{"w":6433,"f":-0.02},{"w":6437,"f":-0.13},{"w":6441,"f":-0.26},{"w":6444,"f":0.06},{"w":6448,"f":0.28},{"w":6452,"f":0.28},{"w":6456,"f":0.03},{"w":6459,"f":-0.01},{"w":6463,"f":-0.06},{"w":6467,"f":0.03},{"w":6471,"f":0.01},{"w":6474,"f":0.01},{"w":6478,"f":-0.08},{"w":6482,"f":-0.13},{"w":6486,"f":0.03},{"w":6489,"f":0.12},{"w":6493,"f":0.26},{"w":6497,"f":0.26},{"w":6501,"f":0.06},{"w":6504,"f":-0.08},{"w":6508,"f":0.2},{"w":6512,"f":0.17},{"w":6516,"f":0.05},{"w":6519,"f":0.12},{"w":6523,"f":0.03},{"w":6527,"f":-0.05},{"w":6531,"f":0.03},{"w":6534,"f":-0.02},{"w":6538,"f":0.01},{"w":6542,"f":-0.05},{"w":6546,"f":0.2},{"w":6549,"f":0.09},{"w":6553,"f":-0.11},{"w":6557,"f":-0.08},{"w":6561,"f":0.03},{"w":6564,"f":0.17},{"w":6568,"f":0.03},{"w":6572,"f":0.2},{"w":6576,"f":0.03},{"w":6579,"f":-0.02},{"w":6583,"f":-0.12},{"w":6587,"f":-0.02},{"w":6591,"f":-0.33},{"w":6594,"f":-0.34},{"w":6598,"f":-0.27},{"w":6602,"f":-0.02},{"w":6606,"f":-0.11},{"w":6609,"f":-0.22},{"w":6613,"f":0.06},{"w":6617,"f":0.06},{"w":6621,"f":-0.24},{"w":6624,"f":-0.02},{"w":6628,"f":0.14},{"w":6632,"f":0.01},{"w":6636,"f":0.12},{"w":6639,"f":0.14},{"w":6643,"f":0.06},{"w":6647,"f":0.17},{"w":6651,"f":0.03},{"w":6654,"f":-0.27},{"w":6658,"f":0.06},{"w":6662,"f":0.34},{"w":6666,"f":0.03},{"w":6669,"f":-0.05},{"w":6673,"f":0.03},{"w":6677,"f":0.2},{"w":6681,"f":0.24},{"w":6684,"f":0.03},{"w":6688,"f":-0.13},{"w":6692,"f":0.06},{"w":6696,"f":0.03},{"w":6699,"f":0.09},{"w":6703,"f":0.06},{"w":6707,"f":0.03},{"w":6711,"f":0.01},{"w":6714,"f":-0.08},{"w":6718,"f":-0.13},{"w":6722,"f":-0.05},{"w":6726,"f":-0.02},{"w":6729,"f":-0.09},{"w":6733,"f":0.03},{"w":6737,"f":0.26},{"w":6741,"f":-0.09},{"w":6744,"f":0.03},{"w":6748,"f":0.01},{"w":6752,"f":-0.16},{"w":6756,"f":-0.13},{"w":6759,"f":-0.08},{"w":6763,"f":0.06},{"w":6767,"f":0.23},{"w":6771,"f":0.14},{"w":6774,"f":0.06},{"w":6778,"f":-0.11},{"w":6782,"f":0.01},{"w":6786,"f":0.23},{"w":6789,"f":0.12},{"w":6793,"f":0.14},{"w":6797,"f":0.03},{"w":6801,"f":0.12},{"w":6804,"f":-0.11},{"w":6808,"f":0.03},{"w":6812,"f":0.01},{"w":6816,"f":-0.05},{"w":6819,"f":0.03},{"w":6823,"f":0.2},{"w":6827,"f":-0.13},{"w":6831,"f":-0.24},{"w":6834,"f":0.01},{"w":6838,"f":0.14},{"w":6842,"f":-0.08},{"w":6846,"f":-0.19},{"w":6849,"f":0.09},{"w":6853,"f":-0.11},{"w":6857,"f":-0.02},{"w":6861,"f":0.03},{"w":6864,"f":0.09},{"w":6868,"f":0.03},{"w":6872,"f":-0.36},{"w":6876,"f":-0.33},{"w":6879,"f":-0.16},{"w":6883,"f":0.09},{"w":6887,"f":0.03},{"w":6891,"f":-0.13},{"w":6894,"f":0.23},{"w":6898,"f":0.31},{"w":6902,"f":0.2},{"w":6906,"f":0.09},{"w":6909,"f":-0.08},{"w":6913,"f":0.14},{"w":6917,"f":0.26},{"w":6921,"f":0.27},{"w":6924,"f":0.12},{"w":6928,"f":-0.05},{"w":6932,"f":0.26},{"w":6936,"f":0.2},{"w":6939,"f":0.03},{"w":6943,"f":0.14},{"w":6947,"f":0.01},{"w":6951,"f":-0.16},{"w":6954,"f":-0.24},{"w":6958,"f":0.09},{"w":6962,"f":0.3},{"w":6966,"f":0.23},{"w":6969,"f":-0.16},{"w":6973,"f":0.14},{"w":6977,"f":0.24},{"w":6981,"f":0.2},{"w":6984,"f":-0.08},{"w":6988,"f":0.03},{"w":6992,"f":-0.02},{"w":6996,"f":0.01},{"w":6999,"f":0.03},{"w":7003,"f":-0.02},{"w":7007,"f":0.12},{"w":7011,"f":0.2},{"w":7014,"f":-0.16},{"w":7018,"f":0.2},{"w":7022,"f":0.33},{"w":7026,"f":0.26},{"w":7029,"f":0.12},{"w":7033,"f":-0.08},{"w":7037,"f":-0.27},{"w":7041,"f":0.09},{"w":7044,"f":0.03},{"w":7048,"f":0.09},{"w":7052,"f":0.12},{"w":7056,"f":0.17},{"w":7059,"f":0.12},{"w":7063,"f":0.01},{"w":7067,"f":-0.15},
{"w":7071,"f":-0.09},{"w":7074,"f":0.2},{"w":7078,"f":-0.16},{"w":7082,"f":0.01},{"w":7086,"f":-0.22},{"w":7089,"f":-0.13},{"w":7093,"f":0.03},{"w":7097,"f":0.31},{"w":7101,"f":-0.13},{"w":7104,"f":-0.02},{"w":7108,"f":-0.16},{"w":7112,"f":-0.08},{"w":7116,"f":-0.23},{"w":7119,"f":-0.08},{"w":7123,"f":0.09},{"w":7127,"f":0.14},{"w":7131,"f":0.16},{"w":7134,"f":0.01},{"w":7138,"f":0.19},{"w":7142,"f":0.2},{"w":7146,"f":-0.02},{"w":7149,"f":0.12},{"w":7153,"f":-0.02},{"w":7157,"f":0.01},{"w":7161,"f":-0.08},{"w":7164,"f":-0.16},{"w":7168,"f":0.03},{"w":7172,"f":0.09},{"w":7176,"f":0.06},{"w":7179,"f":-0.29},{"w":7183,"f":-0.08},{"w":7187,"f":0.01},{"w":7191,"f":0.03},{"w":7194,"f":0.16},{"w":7198,"f":-0.08},{"w":7202,"f":0.03},{"w":7206,"f":-0.22},{"w":7209,"f":-0.02},{"w":7213,"f":0.03},{"w":7217,"f":0.16},{"w":7221,"f":-0.11},{"w":7224,"f":0.08},{"w":7228,"f":-0.24},{"w":7232,"f":-0.27},{"w":7236,"f":-0.16},{"w":7239,"f":-0.97},{"w":7243,"f":-0.24},{"w":7247,"f":0.08},{"w":7251,"f":-0.19},{"w":7254,"f":0.06},{"w":7258,"f":-0.24},{"w":7262,"f":-0.02},{"w":7266,"f":-0.24},{"w":7269,"f":-0.41},{"w":7273,"f":0.01},{"w":7277,"f":0.28},{"w":7281,"f":0.09},{"w":7284,"f":-0.18},{"w":7288,"f":0.23},{"w":7292,"f":0.23},{"w":7296,"f":-0.02},{"w":7299,"f":-0.33},{"w":7303,"f":-0.13},{"w":7307,"f":-0.3},{"w":7311,"f":-0.41},{"w":7314,"f":-0.49},{"w":7318,"f":-0.3},{"w":7322,"f":-0.24},{"w":7326,"f":-0.16},{"w":7329,"f":-0.13},{"w":7333,"f":-0.05},{"w":7337,"f":0.6},{"w":7341,"f":-0.11},{"w":7344,"f":-0.02},{"w":7348,"f":0.3},{"w":7352,"f":-0.27},{"w":7356,"f":-0.08},{"w":7359,"f":0.06},{"w":7363,"f":-0.13},{"w":7367,"f":-0.05},{"w":7371,"f":0.3},{"w":7374,"f":-0.24},{"w":7378,"f":0.03},{"w":7382,"f":-0.13},{"w":7386,"f":0.02},{"w":7389,"f":0.14},{"w":7393,"f":-0.02},{"w":7397,"f":0.01},{"w":7401,"f":-0.3},{"w":7404,"f":0.17},{"w":7408,"f":0.12},{"w":7412,"f":0.12},{"w":7416,"f":0.17},{"w":7419,"f":-0.02},{"w":7423,"f":0.12},{"w":7427,"f":0.21},{"w":7431,"f":-0.24},{"w":7434,"f":0.37},{"w":7438,"f":0.2},{"w":7442,"f":-0.08},{"w":7446,"f":0.12},{"w":7449,"f":0.2},{"w":7453,"f":0.45},{"w":7457,"f":0.12},{"w":7461,"f":-0.27},{"w":7464,"f":0.12},{"w":7468,"f":0.14},{"w":7472,"f":0.12},{"w":7476,"f":0.06},{"w":7479,"f":-0.22},{"w":7483,"f":0.12},{"w":7487,"f":0.06},{"w":7491,"f":0.09},{"w":7494,"f":-0.08},{"w":7498,"f":0.01},{"w":7502,"f":0.21},{"w":7506,"f":0.28},{"w":7509,"f":0.03},{"w":7513,"f":0.2},{"w":7517,"f":0.01},{"w":7521,"f":0.98},{"w":7524,"f":0.03},{"w":7528,"f":0.34},{"w":7532,"f":0.06},{"w":7536,"f":0.17},{"w":7539,"f":0.06},{"w":7543,"f":0.16},{"w":7547,"f":0.14},{"w":7551,"f":0.26},{"w":7554,"f":0.14},{"w":7558,"f":0.28},{"w":7562,"f":0.09},{"w":7566,"f":0.63},{"w":7569,"f":0.12},{"w":7573,"f":0.03},{"w":7577,"f":-0.26},{"w":7581,"f":0.64},{"w":7584,"f":-0.08},{"w":7588,"f":-0.22},{"w":7592,"f":-0.88},{"w":7596,"f":-0.08},{"w":7599,"f":-0.04},{"w":7603,"f":-0.33},{"w":7607,"f":-0.41},{"w":7611,"f":0.14},{"w":7614,"f":0.66},{"w":7618,"f":0.45},{"w":7622,"f":0.17},{"w":7626,"f":0.46},{"w":7629,"f":-0.24},{"w":7633,"f":-0.49},{"w":7637,"f":0.2},{"w":7641,"f":-0.38},{"w":7644,"f":0.06},{"w":7648,"f":0.06},{"w":7652,"f":0.23},{"w":7656,"f":-0.08},{"w":7659,"f":0.01},{"w":7663,"f":-0.05},{"w":7667,"f":0.12},{"w":7671,"f":-0.08},{"w":7674,"f":-0.05},{"w":7678,"f":0.24},{"w":7682,"f":0.06},{"w":7686,"f":0.26},{"w":7689,"f":-0.05},{"w":7693,"f":0.06},{"w":7697,"f":-0.05},{"w":7701,"f":0.2},{"w":7704,"f":-0.16},{"w":7708,"f":0.12},{"w":7712,"f":-0.2},{"w":7716,"f":0.12},{"w":7719,"f":0.12},{"w":7723,"f":0.56},{"w":7727,"f":0.17},{"w":7731,"f":0.2},{"w":7734,"f":0.34},{"w":7738,"f":0.34},{"w":7742,"f":0.06},{"w":7746,"f":-0.24},{"w":7749,"f":-0.27},{"w":7753,"f":-0.27},{"w":7757,"f":-0.02},{"w":7761,"f":-0.29},{"w":7764,"f":0.03},{"w":7768,"f":-0.55},{"w":7772,"f":-0.02},{"w":7776,"f":-0.24},{"w":7779,"f":0.03},{"w":7783,"f":-0.24},{"w":7787,"f":0.14},{"w":7791,"f":-0.68},{"w":7794,"f":-0.11},{"w":7798,"f":-0.24},{"w":7802,"f":-0.02},{"w":7806,"f":0.01},{"w":7809,"f":0.14},{"w":7813,"f":-0.41},{"w":7817,"f":-0.02},{"w":7821,"f":-0.24},{"w":7824,"f":0.52},{"w":7828,"f":0.01},{"w":7832,"f":-0.16},{"w":7836,"f":0.03},{"w":7839,"f":-0.38},{"w":7843,"f":0.03},{"w":7847,"f":-0.22},{"w":7851,"f":0.03},{"w":7854,"f":-0.24},{"w":7858,"f":-0.55},{"w":7862,"f":-0.02},{"w":7866,"f":-0.52},{"w":7869,"f":-0.63},{"w":7873,"f":0.12},{"w":7877,"f":-0.38},{"w":7881,"f":-0.52},{"w":7884,"f":-0.33},{"w":7888,"f":-0.05},{"w":7892,"f":-0.16},{"w":7896,"f":0.35},{"w":7899,"f":-0.05},{"w":7903,"f":-0.16},{"w":7907,"f":0.12},{"w":7911,"f":-0.08},{"w":7914,"f":-0.52},{"w":7918,"f":-0.58},{"w":7922,"f":-0.13},{"w":7926,"f":-0.18},{"w":7929,"f":0.03},{"w":7933,"f":-0.16},{"w":7937,"f":-0.24},{"w":7941,"f":0.01},{"w":7944,"f":0.09},{"w":7948,"f":0.26},{"w":7952,"f":-0.05},{"w":7956,"f":0.06},{"w":7959,"f":-0.38},{"w":7963,"f":0.03},{"w":7967,"f":-0.3},{"w":7971,"f":-0.08},{"w":7974,"f":-0.43},{"w":7978,"f":-0.19},{"w":7982,"f":0.12},{"w":7986,"f":-0.11},{"w":7989,"f":0.03},{"w":7993,"f":0.14},{"w":7997,"f":0.14},{"w":8001,"f":0.09},{"w":8004,"f":0.17},{"w":8008,"f":0.31},{"w":8012,"f":0.17},{"w":8016,"f":0.12},{"w":8019,"f":0.23},{"w":8023,"f":0.16},{"w":8027,"f":0.2},{"w":8031,"f":0.06},{"w":8034,"f":0.2},{"w":8038,"f":-0.02},{"w":8042,"f":0.12},{"w":8046,"f":0.2},{"w":8049,"f":-0.27},{"w":8053,"f":-0.13},{"w":8057,"f":-0.02},{"w":8061,"f":-0.33},{"w":8064,"f":0.09},{"w":8068,"f":-0.08},{"w":8072,"f":0.17},{"w":8076,"f":0.06},{"w":8079,"f":-0.08},{"w":8083,"f":0.1},{"w":8087,"f":-0.02},{"w":8091,"f":0.01},{"w":8094,"f":-0.02},{"w":8098,"f":-0.08},{"w":8102,"f":-0.13},{"w":8106,"f":0.26},{"w":8109,"f":0.03},{"w":8113,"f":-0.13},{"w":8117,"f":-0.02},{"w":8121,"f":-0.08},{"w":8124,"f":0.03},{"w":8128,"f":-0.13},{"w":8132,"f":0.01},{"w":8136,"f":0.2},{"w":8139,"f":0.12},{"w":8143,"f":0.23},{"w":8147,"f":-0.02},{"w":8151,"f":0.2},{"w":8154,"f":0.09},{"w":8158,"f":0.23},{"w":8162,"f":0.01},{"w":8166,"f":-0.16},{"w":8169,"f":0.12},{"w":8173,"f":0.2},{"w":8177,"f":-0.02},{"w":8181,"f":-0.44},{"w":8184,"f":-0.08},{"w":8188,"f":-0.13},{"w":8192,"f":0.01},{"w":8196,"f":0.03},{"w":8199,"f":0.26},{"w":8203,"f":0.31},{"w":8207,"f":0.06},{"w":8211,"f":0.31},{"w":8214,"f":-0.12},{"w":8218,"f":0.23},{"w":8222,"f":0.31},
{"w":8226,"f":-0.02},{"w":8229,"f":0.09},{"w":8233,"f":0.03},{"w":8237,"f":-0.38},{"w":8241,"f":0.2},{"w":8244,"f":0.14},{"w":8248,"f":-0.15},{"w":8252,"f":0.19},{"w":8256,"f":-0.08},{"w":8259,"f":0.14},{"w":8263,"f":0.06},{"w":8267,"f":-0.13},{"w":8271,"f":-0.47},{"w":8274,"f":-0.59},{"w":8278,"f":-0.19},{"w":8282,"f":0.09},{"w":8286,"f":-0.08},{"w":8289,"f":-0.11},{"w":8293,"f":0.56},{"w":8297,"f":-0.02},{"w":8301,"f":0.2},{"w":8304,"f":0.12},{"w":8308,"f":0.52},{"w":8312,"f":-0.05},{"w":8316,"f":-0.08},{"w":8319,"f":-0.13},{"w":8323,"f":-0.02},{"w":8327,"f":0.03},{"w":8331,"f":0.12},{"w":8334,"f":-0.16},{"w":8338,"f":0.09},{"w":8342,"f":0.06},{"w":8346,"f":-0.41},{"w":8349,"f":0.13},{"w":8353,"f":-0.02},{"w":8357,"f":-0.2},{"w":8361,"f":0.01},{"w":8364,"f":0.03},{"w":8368,"f":0.34},{"w":8372,"f":-0.13},{"w":8376,"f":-0.37},{"w":8379,"f":-0.58},{"w":8383,"f":0.03},{"w":8387,"f":0.01},{"w":8391,"f":-0.02},{"w":8394,"f":-0.24},{"w":8398,"f":-0.41},{"w":8402,"f":0.09},{"w":8406,"f":-0.02},{"w":8409,"f":0.12},{"w":8413,"f":0.26},{"w":8417,"f":0.12},{"w":8421,"f":-0.02},{"w":8424,"f":-0.45},{"w":8428,"f":-0.24},{"w":8432,"f":0.06},{"w":8436,"f":0.23},{"w":8439,"f":-0.02},{"w":8443,"f":-0.22},{"w":8447,"f":-0.45},{"w":8451,"f":0.14},{"w":8454,"f":0.12},{"w":8458,"f":-0.16},{"w":8462,"f":0.14},{"w":8466,"f":0.09},{"w":8469,"f":-0.02},{"w":8473,"f":-0.02},{"w":8477,"f":0.23},{"w":8481,"f":0.14},{"w":8484,"f":0.06},{"w":8488,"f":0.2},{"w":8492,"f":0.62},{"w":8496,"f":-0.02},{"w":8499,"f":-0.61},{"w":8503,"f":0.01},{"w":8507,"f":-0.08},{"w":8511,"f":0.38},{"w":8514,"f":0.03},{"w":8518,"f":-0.02},{"w":8522,"f":0.12},{"w":8526,"f":0.12},{"w":8529,"f":0.13},{"w":8533,"f":-0.18},{"w":8537,"f":0.03},{"w":8541,"f":0.12},{"w":8544,"f":-0.02},{"w":8548,"f":0.2},{"w":8552,"f":0.23},{"w":8556,"f":0.14},{"w":8559,"f":-0.02},{"w":8563,"f":-0.08},{"w":8567,"f":-0.02},{"w":8571,"f":-0.09},{"w":8574,"f":-0.05},{"w":8578,"f":-0.11},{"w":8582,"f":-0.02},{"w":8586,"f":-0.13},{"w":8589,"f":0.23},{"w":8593,"f":-0.13},{"w":8597,"f":0.23},{"w":8601,"f":-0.02},{"w":8604,"f":-0.13},{"w":8608,"f":0.06},{"w":8612,"f":-0.16},{"w":8616,"f":0.12},{"w":8619,"f":-0.08},{"w":8623,"f":0.01},{"w":8627,"f":-0.36},{"w":8631,"f":-0.05},{"w":8634,"f":0.28},{"w":8638,"f":0.23},{"w":8642,"f":0.37},{"w":8646,"f":0.03},{"w":8649,"f":-0.44},{"w":8653,"f":-0.22},{"w":8657,"f":-0.36},{"w":8661,"f":-0.66},{"w":8664,"f":-0.41},{"w":8668,"f":-0.01},{"w":8672,"f":-0.3},{"w":8676,"f":-0.13},{"w":8679,"f":0.01},{"w":8683,"f":0.09},{"w":8687,"f":-0.08},{"w":8691,"f":0.03},{"w":8694,"f":0.27},{"w":8698,"f":0.01},{"w":8702,"f":-0.13},{"w":8706,"f":-0.18},{"w":8709,"f":-0.11},{"w":8713,"f":-0.02},{"w":8717,"f":-0.13},{"w":8721,"f":-0.08},{"w":8724,"f":0.06},{"w":8728,"f":0.3},{"w":8732,"f":-0.27},{"w":8736,"f":-0.3},{"w":8739,"f":-0.16},{"w":8743,"f":-0.08},{"w":8747,"f":0.09},{"w":8751,"f":-0.05},{"w":8754,"f":0.42},{"w":8758,"f":0.2},{"w":8762,"f":-0.49},{"w":8766,"f":-1.06},{"w":8769,"f":-0.34},{"w":8773,"f":-0.63},{"w":8777,"f":-0.36},{"w":8781,"f":-0.08},{"w":8784,"f":-0.52},{"w":8788,"f":-0.61},{"w":8792,"f":-0.22},{"w":8796,"f":-0.36},{"w":8799,"f":-0.16},{"w":8803,"f":-0.24},{"w":8807,"f":-0.22},{"w":8811,"f":-0.02},{"w":8814,"f":-0.22},{"w":8818,"f":-0.08},{"w":8822,"f":0.91},{"w":8826,"f":-0.02},{"w":8829,"f":-0.59},{"w":8833,"f":0.14},{"w":8837,"f":0.06},{"w":8841,"f":-0.19},{"w":8844,"f":-0.33},{"w":8848,"f":0.19},{"w":8852,"f":-0.27},{"w":8856,"f":-0.36},{"w":8859,"f":-0.24},{"w":8863,"f":-0.49},{"w":8867,"f":-0.7},{"w":8871,"f":-0.36},{"w":8874,"f":0.09},{"w":8878,"f":-0.54},{"w":8882,"f":-0.24},{"w":8886,"f":-0.13},{"w":8889,"f":-0.08},{"w":8893,"f":-0.11},{"w":8897,"f":-0.24},{"w":8901,"f":-0.33},{"w":8904,"f":0.37},{"w":8908,"f":-0.08},{"w":8912,"f":-1.27},{"w":8916,"f":-0.08},{"w":8919,"f":-0.13},{"w":8923,"f":-0.36},{"w":8927,"f":-0.08},{"w":8931,"f":-0.3},{"w":8934,"f":-0.02},{"w":8938,"f":0.48},{"w":8942,"f":0.85},{"w":8946,"f":-0.02},{"w":8949,"f":-0.19},{"w":8953,"f":-1.68},{"w":8957,"f":-1.19},{"w":8961,"f":-0.41},{"w":8964,"f":-0.05},{"w":8968,"f":-0.02},{"w":8972,"f":-0.05},{"w":8976,"f":0.03},{"w":8979,"f":0.01},{"w":8983,"f":-0.16},{"w":8987,"f":0.27},{"w":8991,"f":-0.24},{"w":8994,"f":-0.7},{"w":8998,"f":0.42},{"w":9002,"f":0.12},{"w":9006,"f":0.12},{"w":9009,"f":0.12},{"w":9013,"f":0.06},{"w":9017,"f":0.12},{"w":9021,"f":0.13},{"w":9024,"f":0.01},{"w":9028,"f":-0.13},{"w":9032,"f":-0.22},{"w":9036,"f":-0.59},{"w":9039,"f":-0.02},{"w":9043,"f":-0.13},{"w":9047,"f":0.09},{"w":9051,"f":0.2},{"w":9054,"f":-0.02},{"w":9058,"f":-0.11},{"w":9062,"f":0.53},{"w":9066,"f":0.42},{"w":9069,"f":0.31},{"w":9073,"f":-0.08},{"w":9077,"f":0.06},{"w":9081,"f":-0.24},{"w":9084,"f":-0.02},{"w":9088,"f":0.31},{"w":9092,"f":0.45},{"w":9096,"f":0.14},{"w":9099,"f":0.31},{"w":9103,"f":0.01},{"w":9107,"f":-0.05},{"w":9111,"f":-0.19},{"w":9114,"f":0.2},{"w":9118,"f":0.12},{"w":9122,"f":0.26},{"w":9126,"f":-0.05},{"w":9129,"f":0.23},{"w":9133,"f":0.28},{"w":9137,"f":-0.02},{"w":9141,"f":-0.08},{"w":9144,"f":-0.02},{"w":9148,"f":0.12},{"w":9152,"f":-0.02},{"w":9156,"f":-0.3},{"w":9159,"f":0.2},{"w":9163,"f":0.2},{"w":9167,"f":0.12},{"w":9171,"f":0.39},{"w":9174,"f":0.39},{"w":9178,"f":0.12},{"w":9182,"f":0.14},{"w":9186,"f":0.01},{"w":9189,"f":0.17},{"w":9193,"f":-0.11},{"w":9197,"f":0.14},{"w":9201,"f":0.23},{"w":9204,"f":0.2},{"w":9208,"f":0.03},{"w":9212,"f":-0.22},{"w":9216,"f":-0.19},{"w":9219,"f":0.01},{"w":9223,"f":-0.22},{"w":9227,"f":-0.02},{"w":9231,"f":0.09},{"w":9234,"f":-0.13},{"w":9238,"f":0.03},{"w":9242,"f":0.12},{"w":9246,"f":0.06},{"w":9249,"f":0.09},{"w":9253,"f":0.12},{"w":9257,"f":0.08},{"w":9261,"f":0.08},{"w":9264,"f":0.01},{"w":9268,"f":0.09},{"w":9272,"f":-0.02},{"w":9276,"f":0.3},{"w":9279,"f":0.23},{"w":9283,"f":0.03},{"w":9287,"f":0.01},{"w":9291,"f":-0.01},{"w":9294,"f":-0.02},{"w":9298,"f":-0.24},{"w":9302,"f":-0.31}
]
},
"encoding": {
"x": {"field": "w", "type": "quantitative",
 "scale": {"domain": [4747.5, 9299], "nice": false, "zero": false},
 "axis": {"title": "Wavelength", "values": [5000, 6000, 7000, 8000, 9000], "format": "d", "grid": false, "domain": false, "labelFlush": false,
  "ticks": true, "tickColor": "black", "tickWidth": 3, "tickSize": 14,
  "labelFont": "DejaVu Sans", "labelFontSize": 27, "labelColor": "black", "labelPadding": 15,
  "titleFont": "DejaVu Sans", "titleFontSize": 32, "titleFontWeight": "normal", "titleColor": "black",
  "titleBaseline": "alphabetic", "titleAlign": "center", "titleX": 1162.5, "titleY": 86}},
"y": {"field": "f", "type": "quantitative",
 "scale": {"domain": [-1.87, 2.38], "nice": false, "zero": false},
 "axis": {"title": "10⁻¹⁸ erg s⁻¹ cm⁻² Å⁻¹", "values": [-1.5, -1, -0.5, 0, 0.5, 1, 1.5, 2], "format": ".1f", "grid": false, "domain": false, "labelFlush": false,
  "ticks": true, "tickColor": "black", "tickWidth": 3, "tickSize": 14,
  "labelFont": "DejaVu Sans", "labelFontSize": 34, "labelColor": "black", "labelPadding": 18,
  "titleFont": "DejaVu Sans", "titleFontSize": 45, "titleFontWeight": "normal", "titleColor": "black",
  "titleAngle": -90, "titleBaseline": "alphabetic", "titleAlign": "center", "titleX": -150, "titleY": 346}}
},
"layer": [
{"data": {"name": "noise"}, "mark": {"type": "line", "color": "green", "strokeWidth": 1.3, "clip": true, "strokeJoin": "round"}},
{"data": {"name": "zero"}, "mark": {"type": "line", "color": "blue", "strokeWidth": 5, "clip": true}},
{"data": {"name": "flux"}, "mark": {"type": "line", "color": "black", "strokeWidth": 4.2, "clip": true, "strokeJoin": "round"}}
]
}
